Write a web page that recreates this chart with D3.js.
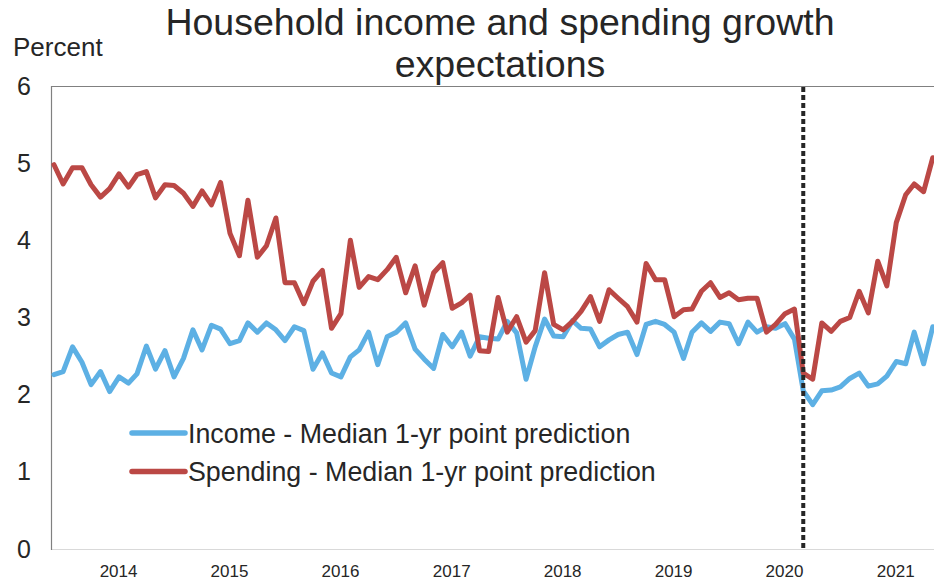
<!DOCTYPE html>
<html>
<head>
<meta charset="utf-8">
<script src="https://cdn.jsdelivr.net/npm/d3@7"></script>
<style>
  html, body { margin: 0; padding: 0; background: #fff; }
  svg { display: block; font-family: "Liberation Sans", Arial, sans-serif; }
</style>
</head>
<body>
<svg id="chart" width="934" height="582"></svg>
<script>
// Monthly survey medians, June 2013 through May 2021
const startMonth = new Date(2013, 5, 1);
const income = [
  2.26, 2.30, 2.62, 2.42, 2.13, 2.30, 2.04,
  2.23, 2.15, 2.27, 2.63, 2.33, 2.57, 2.23, 2.47, 2.84, 2.58, 2.90, 2.85,
  2.66, 2.70, 2.93, 2.81, 2.93, 2.84, 2.70, 2.88, 2.83, 2.33, 2.54, 2.28,
  2.23, 2.49, 2.58, 2.81, 2.39, 2.75, 2.81, 2.93, 2.59, 2.46, 2.34, 2.78,
  2.62, 2.81, 2.50, 2.75, 2.73, 2.72, 2.95, 2.80, 2.20, 2.62, 2.98, 2.76,
  2.75, 2.96, 2.86, 2.85, 2.62, 2.71, 2.78, 2.81, 2.52, 2.91, 2.95, 2.91,
  2.81, 2.47, 2.81, 2.93, 2.82, 2.94, 2.92, 2.66, 2.94, 2.81, 2.88, 2.86,
  2.92, 2.72, 2.05, 1.87, 2.05, 2.06, 2.10, 2.21, 2.28, 2.11, 2.14, 2.24,
  2.43, 2.40, 2.81, 2.40, 2.88
];
const spending = [
  4.98, 4.73, 4.94, 4.94, 4.72, 4.56, 4.67,
  4.86, 4.69, 4.85, 4.89, 4.55, 4.72, 4.71, 4.61, 4.44, 4.64, 4.46, 4.75,
  4.09, 3.80, 4.52, 3.78, 3.93, 4.29, 3.45, 3.45, 3.18, 3.47, 3.61, 2.86,
  3.05, 4.00, 3.39, 3.53, 3.49, 3.62, 3.78, 3.32, 3.67, 3.16, 3.58, 3.71,
  3.12, 3.19, 3.29, 2.57, 2.56, 3.26, 2.81, 3.01, 2.68, 2.83, 3.58, 2.91,
  2.84, 2.95, 3.08, 3.27, 2.95, 3.36, 3.25, 3.14, 2.94, 3.70, 3.49, 3.49,
  3.01, 3.10, 3.11, 3.34, 3.45, 3.26, 3.32, 3.23, 3.25, 3.25, 2.81, 2.91,
  3.05, 3.11, 2.28, 2.20, 2.93, 2.82, 2.95, 3.00, 3.34, 3.06, 3.73, 3.41,
  4.23, 4.59, 4.73, 4.63, 5.07
];
const yTicks = [0, 1, 2, 3, 4, 5, 6];
const yearTicks = [2014, 2015, 2016, 2017, 2018, 2019, 2020, 2021];
const markerDate = new Date(2020, 2, 1);
const titleLines = ["Household income and spending growth", "expectations"];
const legendLabels = ["Income - Median 1-yr point prediction", "Spending - Median 1-yr point prediction"];

const months = income.map((_, i) => d3.timeMonth.offset(startMonth, i));
const colors = ["#5db0e4", "#bb4845"];

const svg = d3.select("#chart");
const plotLeft = 51, plotRight = 934, plotTop = 86, plotBottom = 549;

const x = d3.scaleTime()
  .domain([startMonth, d3.timeMonth.offset(startMonth, income.length - 1)])
  .range([54, 932.75]);
const y = d3.scaleLinear().domain([0, 6]).range([plotBottom, plotTop]);

// Title
svg.append("g").selectAll("text").data(titleLines).join("text")
  .attr("x", 500).attr("y", (d, i) => 35 + i * 42)
  .attr("text-anchor", "middle")
  .attr("font-size", 37.5).attr("fill", "#262626")
  .text(d => d);

svg.append("text").attr("x", 13).attr("y", 56)
  .attr("font-size", 26).attr("fill", "#262626").text("Percent");

// Frame
svg.append("line").attr("x1", plotLeft).attr("x2", plotRight).attr("y1", plotTop + 0.5).attr("y2", plotTop + 0.5)
  .attr("stroke", "#808080").attr("stroke-width", 1.2);
svg.append("line").attr("x1", plotLeft).attr("x2", plotRight).attr("y1", plotBottom + 0.5).attr("y2", plotBottom + 0.5)
  .attr("stroke", "#d9d9d9").attr("stroke-width", 1.2);
svg.append("line").attr("x1", plotLeft + 0.5).attr("x2", plotLeft + 0.5).attr("y1", plotTop).attr("y2", plotBottom + 1)
  .attr("stroke", "#808080").attr("stroke-width", 1.2);

// Y axis labels
const yAxis = d3.axisLeft(y).tickValues(yTicks).tickSize(0).tickPadding(0).tickFormat(d3.format("d"));
svg.append("g").attr("transform", "translate(31,0)").call(yAxis)
  .call(g => g.select(".domain").remove())
  .call(g => g.selectAll("text").attr("font-size", 25).attr("fill", "#262626")
    .attr("font-family", "Liberation Sans, Arial, sans-serif"));

// X axis year labels at January of each year
const xAxis = d3.axisBottom(x)
  .tickValues(yearTicks.map(yr => new Date(yr, 0, 1)))
  .tickSize(0).tickPadding(0).tickFormat(d3.timeFormat("%Y"));
svg.append("g").attr("transform", "translate(-1,565)").call(xAxis)
  .call(g => g.select(".domain").remove())
  .call(g => g.selectAll("text").attr("font-size", 17).attr("fill", "#262626")
    .attr("font-family", "Liberation Sans, Arial, sans-serif"));

// Series lines
svg.append("clipPath").attr("id", "plot-clip")
  .append("rect").attr("x", plotLeft).attr("y", 0).attr("width", plotRight - plotLeft).attr("height", plotBottom);
const line = d3.line().x((d, i) => x(months[i])).y(d => y(d));
const series = [income, spending];
svg.append("g").attr("clip-path", "url(#plot-clip)")
  .selectAll("path").data(series).join("path")
  .attr("d", line)
  .attr("fill", "none")
  .attr("stroke", (d, i) => colors[i])
  .attr("stroke-width", 5)
  .attr("stroke-linejoin", "round")
  .attr("stroke-linecap", "round");

// Pandemic marker
svg.append("line")
  .attr("x1", x(markerDate)).attr("x2", x(markerDate))
  .attr("y1", plotTop + 1).attr("y2", plotBottom)
  .attr("stroke", "#262626").attr("stroke-width", 4)
  .attr("stroke-dasharray", "5,3");

// Legend
const legend = svg.append("g").selectAll("g").data(legendLabels).join("g")
  .attr("transform", (d, i) => `translate(0,${433 + i * 38.5})`);
legend.append("line").attr("x1", 132).attr("x2", 185).attr("y1", 0).attr("y2", 0)
  .attr("stroke", (d, i) => colors[i]).attr("stroke-width", 5.5).attr("stroke-linecap", "round");
legend.append("text").attr("x", 188).attr("y", 9.5)
  .attr("font-size", 26.8).attr("fill", "#262626").text(d => d);
</script>
</body>
</html>
